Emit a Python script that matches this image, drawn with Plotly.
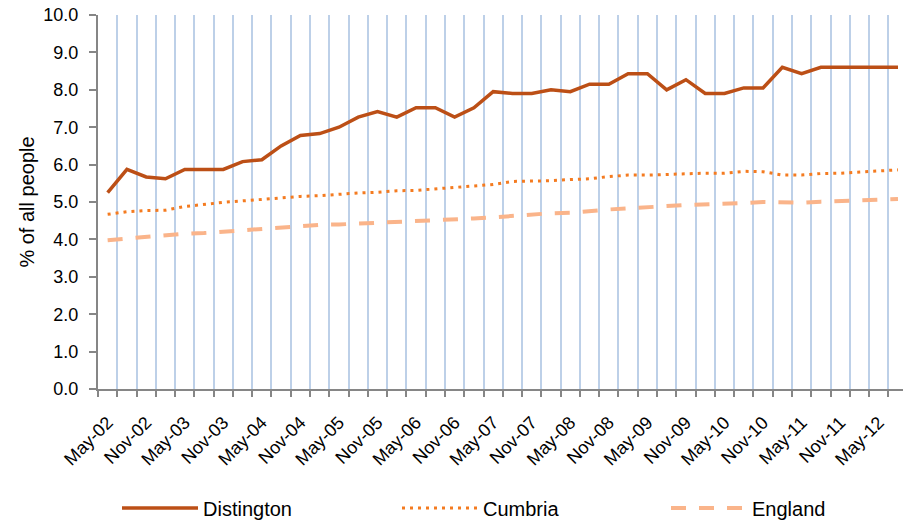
import plotly.graph_objects as go

quarters = [
    "May-02", "Aug-02", "Nov-02", "Feb-03", "May-03", "Aug-03", "Nov-03", "Feb-04",
    "May-04", "Aug-04", "Nov-04", "Feb-05", "May-05", "Aug-05", "Nov-05", "Feb-06",
    "May-06", "Aug-06", "Nov-06", "Feb-07", "May-07", "Aug-07", "Nov-07", "Feb-08",
    "May-08", "Aug-08", "Nov-08", "Feb-09", "May-09", "Aug-09", "Nov-09", "Feb-10",
    "May-10", "Aug-10", "Nov-10", "Feb-11", "May-11", "Aug-11", "Nov-11", "Feb-12",
    "May-12", "Aug-12",
]

distington = [
    5.25, 5.87, 5.67, 5.62, 5.87, 5.87, 5.87, 6.08, 6.13, 6.50, 6.78, 6.83,
    7.00, 7.27, 7.42, 7.27, 7.52, 7.52, 7.27, 7.52, 7.95, 7.90, 7.90, 8.00,
    7.95, 8.15, 8.15, 8.43, 8.43, 8.00, 8.27, 7.90, 7.90, 8.05, 8.05, 8.60,
    8.43, 8.60, 8.60, 8.60, 8.60, 8.60,
]

cumbria = [
    4.67, 4.74, 4.77, 4.78, 4.88, 4.94, 4.99, 5.03, 5.07, 5.12, 5.15, 5.17,
    5.21, 5.24, 5.26, 5.30, 5.31, 5.35, 5.40, 5.44, 5.47, 5.55, 5.56, 5.57,
    5.60, 5.62, 5.68, 5.72, 5.72, 5.74, 5.77, 5.77, 5.77, 5.82, 5.81, 5.72,
    5.72, 5.76, 5.77, 5.81, 5.83, 5.86,
]

england = [
    3.98, 4.02, 4.07, 4.12, 4.15, 4.17, 4.21, 4.25, 4.28, 4.31, 4.36, 4.39,
    4.40, 4.42, 4.45, 4.47, 4.49, 4.51, 4.53, 4.56, 4.59, 4.63, 4.68, 4.70,
    4.71, 4.76, 4.80, 4.83, 4.85, 4.89, 4.92, 4.93, 4.94, 4.97, 5.00, 5.00,
    4.98, 5.01, 5.03, 5.04, 5.06, 5.08,
]

tick_text = [q if q.startswith(("May", "Nov")) else "" for q in quarters]

FONT = "Liberation Sans, Arial, sans-serif"

fig = go.Figure()
fig.add_trace(go.Scatter(
    x=quarters, y=distington, name="Distington", mode="lines",
    line=dict(color="#BC4F16", width=3.5), legend="legend",
))
fig.add_trace(go.Scatter(
    x=quarters, y=cumbria, name="Cumbria", mode="lines",
    line=dict(color="#F47B20", width=3, dash="3px,5px"), legend="legend2",
))
fig.add_trace(go.Scatter(
    x=quarters, y=england, name="England", mode="lines",
    line=dict(color="#FAB48A", width=4, dash="15px,13px"), legend="legend3",
))

leg_common = dict(
    orientation="h", xref="container", yref="container",
    yanchor="middle", xanchor="left", y=1 - 508 / 526,
    font=dict(family=FONT, size=20, color="#000000"),
    itemwidth=76, bgcolor="rgba(0,0,0,0)",
)

fig.update_layout(
    width=903, height=526,
    margin=dict(l=98, r=0, t=15, b=137, autoexpand=False),
    paper_bgcolor="white", plot_bgcolor="white",
    font=dict(family=FONT, size=18, color="#000000"),
    showlegend=True,
    legend=dict(x=117 / 903, **leg_common),
    legend2=dict(x=397 / 903, **leg_common),
    legend3=dict(x=666 / 903, **leg_common),
    xaxis=dict(
        type="category", automargin=False,
        categoryorder="array", categoryarray=quarters,
        range=[-0.5, 41.26],
        tickmode="array", tickvals=quarters, ticktext=tick_text,
        tickson="boundaries",
        tickangle=-45, ticklabelstandoff=14,
        ticks="outside", ticklen=6, tickwidth=2, tickcolor="#868686",
        showgrid=True, gridcolor="#BDD0E8", gridwidth=2,
        showline=True, linecolor="#868686", linewidth=2,
        tickfont=dict(family=FONT, size=18, color="#000000"),
        zeroline=False,
    ),
    yaxis=dict(
        range=[0, 10], dtick=1, tick0=0, tickformat=".1f", automargin=False,
        ticks="outside", ticklen=7, tickwidth=2, tickcolor="#868686",
        ticklabelstandoff=7,
        showgrid=False, zeroline=False,
        showline=True, linecolor="#868686", linewidth=2,
        tickfont=dict(family=FONT, size=18, color="#000000"),
        title=dict(text="% of all people", font=dict(family=FONT, size=20, color="#000000"), standoff=3),
    ),
)

fig.write_html(
    "out.html",
    config={"displayModeBar": False},
    post_script="document.body.style.margin='0';document.body.style.overflow='hidden';",
)
